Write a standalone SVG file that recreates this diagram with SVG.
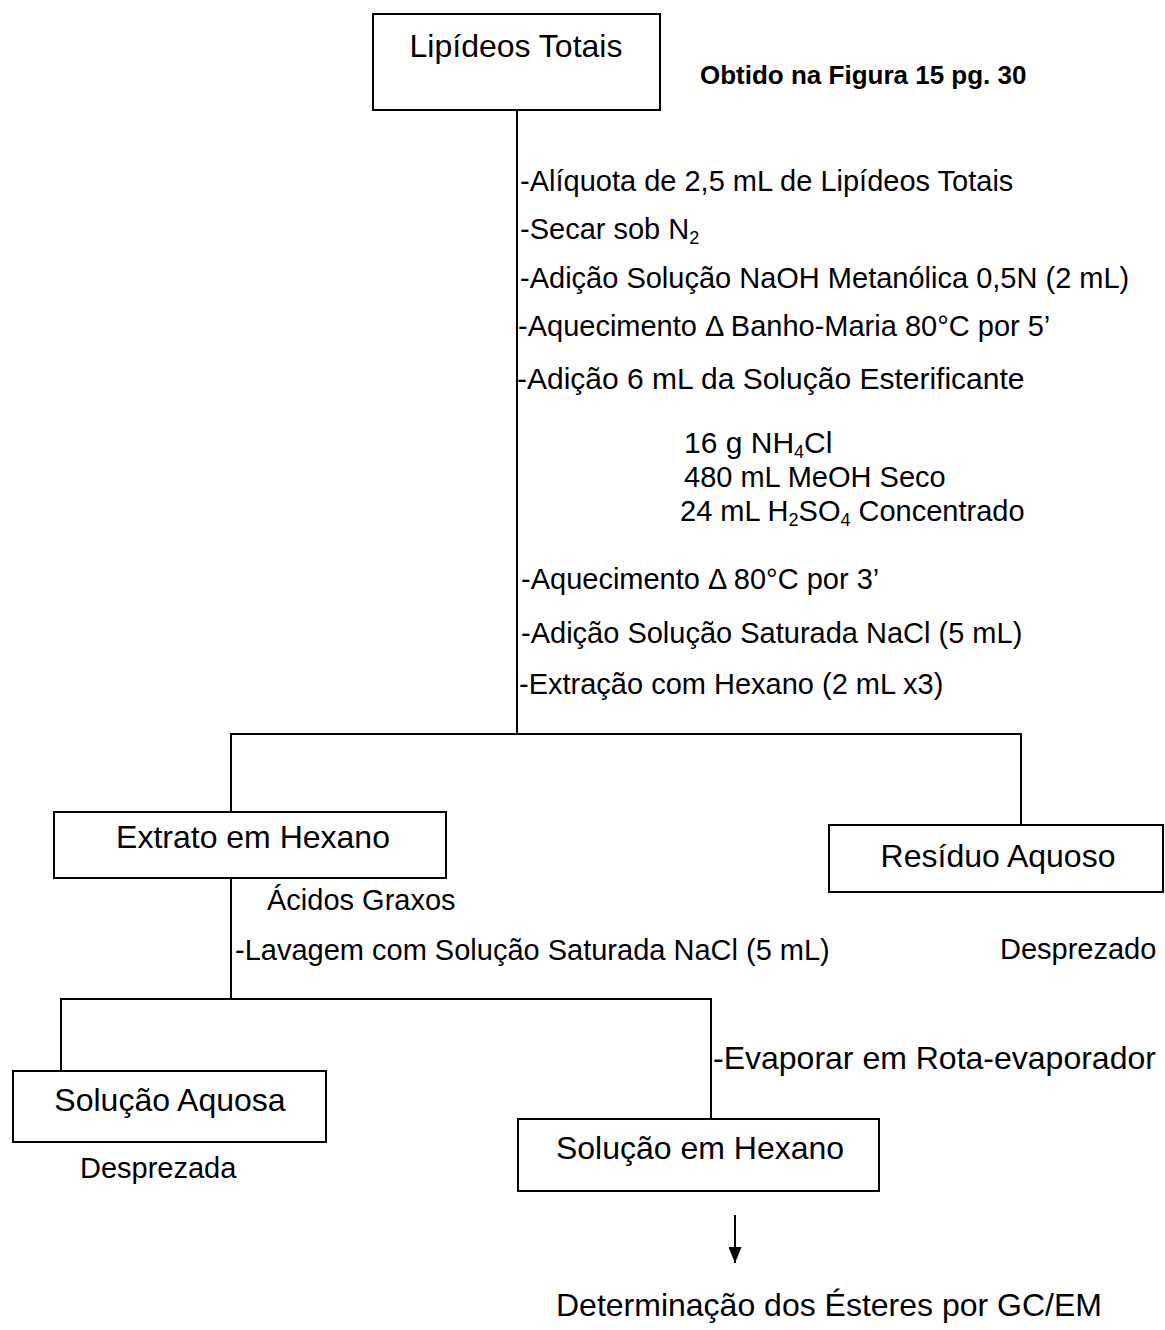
<svg xmlns="http://www.w3.org/2000/svg" width="1165" height="1330" viewBox="0 0 1165 1330">
<style>
text{font-family:"Liberation Sans",Arial,sans-serif;fill:#000}
.box{fill:#fff;stroke:#000;stroke-width:2}
.lbl{font-size:32px;text-anchor:middle}
.step{font-size:29px}
.big{font-size:30px}
.ln{stroke:#000;stroke-width:2;fill:none}
.sub{font-size:18px}
</style>
<defs>
<marker id="ah" markerWidth="16" markerHeight="13" refX="16" refY="6.5" orient="auto" markerUnits="userSpaceOnUse" viewBox="0 0 16 13">
<path d="M0,0 L16,6.5 L0,13 Z" fill="#000"/>
</marker>
</defs>
<rect width="1165" height="1330" fill="#fff"/>
<g id="connectors">
<line class="ln" x1="517" y1="110" x2="517" y2="734"/>
<line class="ln" x1="230" y1="734" x2="1022" y2="734"/>
<line class="ln" x1="231" y1="734" x2="231" y2="812"/>
<line class="ln" x1="1021" y1="734" x2="1021" y2="825"/>
<line class="ln" x1="231" y1="878" x2="231" y2="999"/>
<line class="ln" x1="60" y1="999" x2="712" y2="999"/>
<line class="ln" x1="61" y1="999" x2="61" y2="1071"/>
<line class="ln" x1="711" y1="999" x2="711" y2="1119"/>
<line class="ln" x1="735" y1="1215" x2="735" y2="1263" marker-end="url(#ah)"/>
</g>
<g id="lipideos-totais">
<rect class="box" x="373" y="14" width="287" height="96"/>
<text class="lbl" x="516" y="57">Lipídeos Totais</text>
</g>
<g id="nota-origem">
<text x="700" y="84" font-size="26" font-weight="bold">Obtido na Figura 15 pg. 30</text>
</g>
<g id="etapas-1">
<text class="step" x="520" y="191">-Alíquota de 2,5 mL de Lipídeos Totais</text>
<text class="step" x="520" y="239">-Secar sob N<tspan class="sub" dy="5">2</tspan></text>
<text class="step" x="520" y="288">-Adição Solução NaOH Metanólica 0,5N (2 mL)</text>
<text class="step" x="518" y="336">-Aquecimento Δ Banho-Maria 80°C por 5’</text>
<text class="big" x="517" y="389">-Adição 6 mL da Solução Esterificante</text>
<text class="big" x="684" y="453">16 g NH<tspan class="sub" dy="5">4</tspan><tspan dy="-5">Cl</tspan></text>
<text class="step" x="684" y="487">480 mL MeOH Seco</text>
<text class="step" x="680" y="521">24 mL H<tspan class="sub" dy="5">2</tspan><tspan dy="-5">SO</tspan><tspan class="sub" dy="5">4</tspan><tspan dy="-5"> Concentrado</tspan></text>
<text class="step" x="521" y="589">-Aquecimento Δ 80°C por 3’</text>
<text class="step" x="521" y="643">-Adição Solução Saturada NaCl (5 mL)</text>
<text class="step" x="519" y="694">-Extração com Hexano (2 mL x3)</text>
</g>
<g id="extrato-hexano">
<rect class="box" x="54" y="812" width="392" height="66"/>
<text class="lbl" x="253" y="848">Extrato em Hexano</text>
</g>
<text class="step" x="267" y="910">Ácidos Graxos</text>
<text class="step" x="235" y="960">-Lavagem com Solução Saturada NaCl (5 mL)</text>
<g id="residuo-aquoso">
<rect class="box" x="829" y="825" width="334" height="67"/>
<text class="lbl" x="998" y="867">Resíduo Aquoso</text>
</g>
<text class="step" x="1000" y="959">Desprezado</text>
<g id="solucao-aquosa">
<rect class="box" x="13" y="1071" width="313" height="71"/>
<text class="lbl" x="170" y="1111">Solução Aquosa</text>
</g>
<text class="step" x="80" y="1178">Desprezada</text>
<text class="lbl" x="713" y="1069" style="text-anchor:start">-Evaporar em Rota-evaporador</text>
<g id="solucao-hexano">
<rect class="box" x="518" y="1119" width="361" height="72"/>
<text class="lbl" x="700" y="1159">Solução em Hexano</text>
</g>
<g id="determinacao">
<text class="lbl" x="829" y="1316">Determinação dos Ésteres por GC/EM</text>
</g>
</svg>
